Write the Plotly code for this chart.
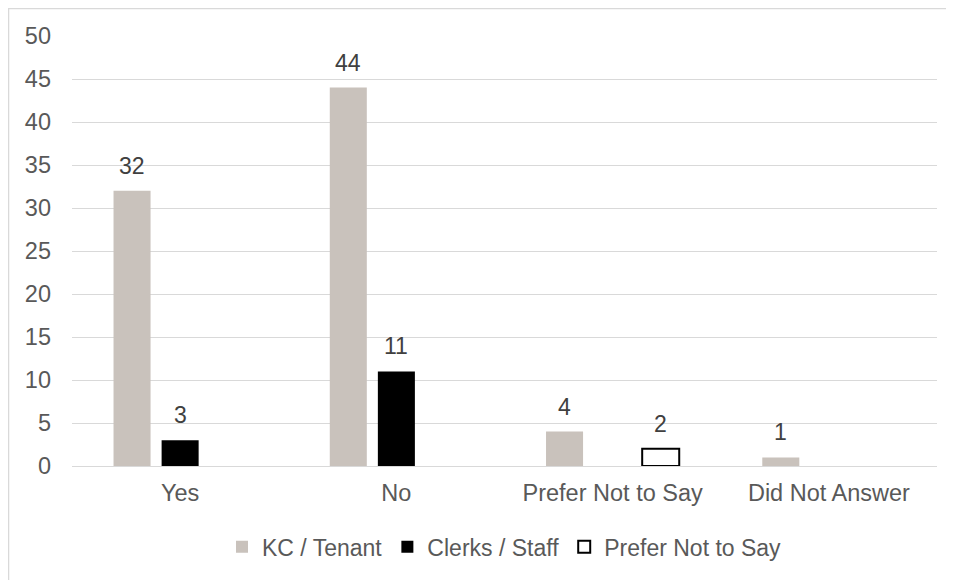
import plotly.graph_objects as go

categories = ["Yes", "No", "Prefer Not to Say", "Did Not Answer"]
kc_tenant = [32, 44, 4, 1]
clerks_staff = [3, 11, None, None]
prefer_not = [None, None, 2, None]

series = [
    ("KC / Tenant", kc_tenant, "#c9c2bc", dict(width=0)),
    ("Clerks / Staff", clerks_staff, "#000000", dict(width=0)),
    ("Prefer Not to Say", prefer_not, "#ffffff", dict(color="#000000", width=2)),
]

font_family = "Liberation Sans, Arial, sans-serif"

fig = go.Figure()
for name, vals, color, line in series:
    fig.add_trace(go.Bar(x=categories, y=vals, name=name,
                         marker=dict(color=color, line=line)))

# data labels, shifted into each bar's slot in the group
slot = 48
annotations = []
for i, (name, vals, color, line) in enumerate(series):
    for cat, v in zip(categories, vals):
        if v is None:
            continue
        annotations.append(dict(
            x=cat, y=v, xref="x", yref="y", text=str(v), showarrow=False,
            xshift=(i - 1) * slot, yshift=10, yanchor="bottom",
            font=dict(size=23, color="#404040", family=font_family),
        ))

fig.update_layout(
    width=954, height=580,
    margin=dict(l=64, r=25, t=28, b=122),
    paper_bgcolor="white", plot_bgcolor="white",
    font=dict(family=font_family, size=23.5, color="#595959"),
    barmode="group", bargap=0.333, bargroupgap=0.23,
    showlegend=True,
    legend=dict(orientation="h", x=0.5, xanchor="center", y=-0.188, yanchor="middle",
                font=dict(size=23, color="#595959"), itemwidth=30, tracegroupgap=0),
    xaxis=dict(showgrid=False, showline=True, linecolor="#d9d9d9", linewidth=1,
               ticks="", ticklabelstandoff=6),
    yaxis=dict(range=[0, 50], dtick=5, showgrid=True, gridcolor="#d9d9d9", gridwidth=1,
               zeroline=False, ticks="", ticklabelstandoff=20),
    annotations=annotations,
    shapes=[dict(type="rect", xref="paper", yref="paper",
                 x0=-0.0734, x1=1.06, y0=-0.2825, y1=1.0640,
                 line=dict(color="#d9d9d9", width=1.5), fillcolor="rgba(0,0,0,0)",
                 layer="below")],
)

fig.write_html("out.html")
